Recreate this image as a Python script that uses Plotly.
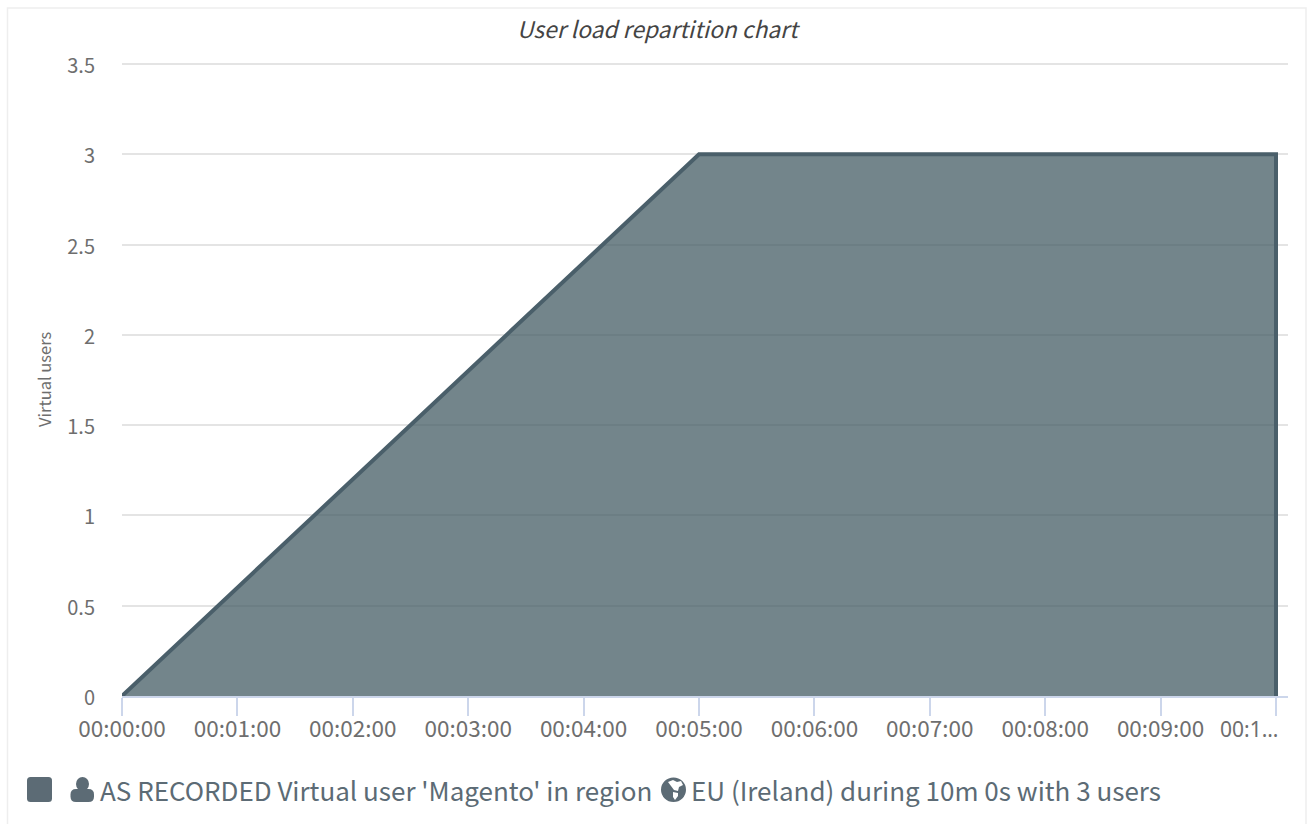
import plotly.graph_objects as go

minutes = [0, 5, 10, 10]
users = [0, 3, 3, 0]
tick_minutes = [0, 1, 2, 3, 4, 5, 6, 7, 8, 9, 10]
tick_labels = ["00:00:00", "00:01:00", "00:02:00", "00:03:00", "00:04:00", "00:05:00",
               "00:06:00", "00:07:00", "00:08:00", "00:09:00", "00:1\u2026"]
y_ticks = [0, 0.5, 1, 1.5, 2, 2.5, 3, 3.5]
y_labels = ["0", "0.5", "1", "1.5", "2", "2.5", "3", "3.5"]
title = "User load repartition chart"
y_title = "Virtual users"
legend_a = "AS RECORDED Virtual user 'Magento' in region"
legend_b = "EU (Ireland) during 10m 0s with 3 users"
series_name = legend_a + " " + legend_b

W, H = 1309, 824
L, R, T, B = 122, 1288, 60, 696
Y_TOP = 3.5 + 4 / (632 / 3.5)
FONT = "Noto Sans CJK JP"
TXT = "#6e6e6e"
LINE = "#4a5f6a"
FILL = "rgba(66,90,99,0.74)"
LEG = "#5c6b75"

def px(x): return (x - L) / (R - L)
def py(y): return (B - y) / (B - T)

def poly(points, color):
    d = "M " + " L ".join(f"{px(x)} {py(y)}" for x, y in points) + " Z"
    return dict(type="path", xref="paper", yref="paper", fillcolor=color, line=dict(width=0), path=d)

def rounded(x0, y0, x1, y1, r, color):
    a = [(x0 + r, y0), (x1 - r, y0), (x1, y0), (x1, y0 + r), (x1, y1 - r), (x1, y1), (x1 - r, y1),
         (x0 + r, y1), (x0, y1), (x0, y1 - r), (x0, y0 + r), (x0, y0), (x0 + r, y0)]
    c = [f"{px(x)} {py(y)}" for x, y in a]
    d = (f"M {c[0]} L {c[1]} Q {c[2]} {c[3]} L {c[4]} Q {c[5]} {c[6]} "
         f"L {c[7]} Q {c[8]} {c[9]} L {c[10]} Q {c[11]} {c[12]} Z")
    return dict(type="path", xref="paper", yref="paper", fillcolor=color, line=dict(width=0), path=d)

# The last label sits left of its tick in the reference, so it is placed as an annotation.
shown_ticks = tick_labels[:-1] + [""]

fig = go.Figure()
fig.add_trace(go.Scatter(x=minutes, y=users, mode="lines", name=series_name, fill="tozeroy",
                         fillcolor=FILL, line=dict(color=LINE, width=4), showlegend=False,
                         cliponaxis=True))

shapes = [
    dict(type="rect", xref="paper", yref="paper", x0=px(7.5), x1=px(1306), y0=py(8), y1=py(840),
         line=dict(color="#eeeeee", width=1.5), layer="below"),
    rounded(27, 777, 52, 802, 3.5, LEG),
    # user icon
    dict(type="circle", xref="paper", yref="paper", fillcolor=LEG, line=dict(width=0),
         x0=px(76), x1=px(89), y0=py(777), y1=py(791)),
    rounded(70.5, 789, 94, 802, 5.5, LEG),
    # globe icon
    dict(type="circle", xref="paper", yref="paper", fillcolor=LEG, line=dict(width=0),
         x0=px(661), x1=px(686), y0=py(777.5), y1=py(802)),
    poly([(668, 782), (673, 780), (677, 782), (681, 781), (683, 785), (679, 787), (678, 791),
          (674, 790), (671, 786)], "white"),
    poly([(673, 792), (678, 793), (678, 796), (675, 800), (673, 797)], "white"),
]

annotations = [
    dict(text=legend_a, xref="paper", yref="paper", x=px(98), y=py(789), xanchor="left", yanchor="middle",
         showarrow=False, font=dict(family=FONT, size=26, color=LEG)),
    dict(text=legend_b, xref="paper", yref="paper", x=px(689), y=py(789), xanchor="left", yanchor="middle",
         showarrow=False, font=dict(family=FONT, size=26, color=LEG)),
    dict(text=title, xref="paper", yref="paper", x=px(658), y=py(28), xanchor="center", yanchor="middle",
         showarrow=False, font=dict(family=FONT, size=22.8, color="#444444", style="italic")),
    dict(text=y_title, xref="paper", yref="paper", x=px(44), y=py(379), xanchor="center", yanchor="middle",
         textangle=-90, showarrow=False, font=dict(family=FONT, size=16.5, color=TXT)),
    dict(text=tick_labels[-1], xref="paper", yref="paper", x=px(1249), y=py(729), xanchor="center",
         yanchor="middle", showarrow=False, font=dict(family="Noto Sans", size=21, color=TXT)),
]

fig.update_layout(
    width=W, height=H, autosize=False,
    margin=dict(l=L, r=W - R, t=T, b=H - B, pad=0),
    paper_bgcolor="white", plot_bgcolor="white",
    shapes=shapes, annotations=annotations,
    font=dict(family=FONT, color=TXT, size=20),
    xaxis=dict(range=[0, 10.104], tickmode="array", tickvals=tick_minutes, ticktext=shown_ticks,
               showgrid=False, zeroline=False, showline=True, linecolor="#ccd6eb", linewidth=1.5,
               ticks="outside", ticklen=18, tickwidth=1.5, tickcolor="#ccd6eb", automargin=False,
               tickangle=0, tickfont=dict(size=22.5, color=TXT, family=FONT),
               ticklabelstandoff=-6, ticklabeloverflow="allow"),
    yaxis=dict(range=[0, Y_TOP], tickmode="array", tickvals=y_ticks, ticktext=y_labels,
               showgrid=True, gridcolor="#e4e4e4", gridwidth=2, zeroline=False, showline=False,
               automargin=False, ticks="", tickfont=dict(size=20, color=TXT, family=FONT),
               ticklabelstandoff=26, ticklabelshift=2),
)

fig.write_html("out.html", config=dict(displayModeBar=False),
               post_script="document.body.style.margin='0';document.documentElement.style.overflow='hidden';")
